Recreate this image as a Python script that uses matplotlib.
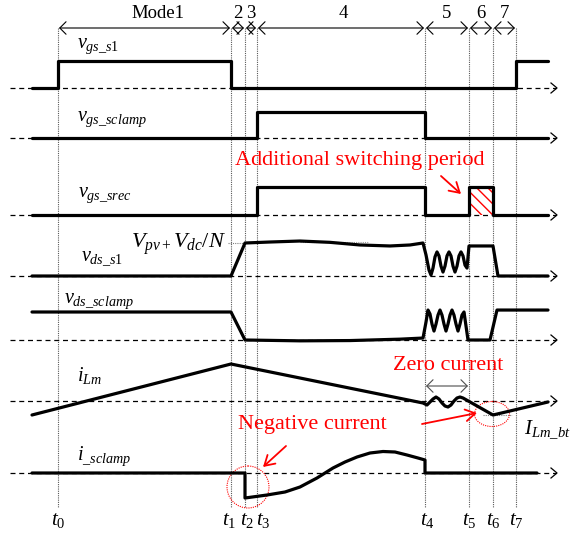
import matplotlib
matplotlib.use("Agg")
import matplotlib.pyplot as plt
from matplotlib.patches import Rectangle, Ellipse, Circle

plt.rcParams['font.family'] = ['Liberation Serif', 'DejaVu Serif']
plt.rcParams['mathtext.fontset'] = 'custom'
plt.rcParams['mathtext.rm'] = 'Liberation Serif'
plt.rcParams['mathtext.it'] = 'Liberation Serif:italic'
plt.rcParams['mathtext.bf'] = 'Liberation Serif:bold'
plt.rcParams['hatch.linewidth'] = 1.0

# ---------------- data ----------------
t_marks = [58, 231, 245, 257, 425, 469, 493, 516]
t_labels = [r'$t_0$', r'$t_1$', r'$t_2$', r'$t_3$', r'$t_4$', r'$t_5$', r'$t_6$', r'$t_7$']
mode_labels = ['Mode1', '2', '3', '4', '5', '6', '7']

vgs_s1_t = [32, 58, 58, 231, 231, 516, 516, 548]
vgs_s1_v = [0, 0, 1, 1, 0, 0, 1, 1]

vgs_sclamp_t = [32, 257, 257, 425, 425, 548]
vgs_sclamp_v = [0, 0, 1, 1, 0, 0]

vgs_srec_t = [32, 257, 257, 425, 425, 469, 469, 493, 493, 548]
vgs_srec_v = [0, 0, 1, 1, 0, 0, 1, 1, 0, 0]

vds_s1_t = [32, 231, 245, 270, 300, 330, 360, 390, 410, 423, 426, 429, 431, 433, 435, 437,
            439, 441, 443, 445, 447, 449, 451, 453, 455, 457, 459, 461, 463, 465, 467,
            469, 493, 498, 548]
vds_s1_v = [0.0, 0.0, 1.0, 1.03, 1.06, 1.02, 0.94, 0.91, 0.94, 1.0, 0.64, 0.18, 0.03, 0.24,
            0.58, 0.73, 0.61, 0.30, 0.12, 0.30, 0.61, 0.73, 0.61, 0.30, 0.12, 0.30, 0.61,
            0.73, 0.61, 0.33, 0.24, 0.91, 0.91, 0.0, 0.0]

vds_sclamp_t = [32, 231, 245, 300, 350, 400, 423, 426, 428, 430, 432, 434, 436, 438, 440,
                442, 444, 446, 448, 450, 452, 454, 456, 458, 460, 462, 464, 466, 468,
                490, 497, 548]
vds_sclamp_v = [1.0, 1.0, 0.0, -0.03, -0.02, 0.03, 0.07, 0.64, 1.07, 0.93, 0.57, 0.32,
                0.57, 0.89, 1.07, 0.89, 0.57, 0.32, 0.57, 0.89, 1.07, 0.89, 0.57, 0.32,
                0.57, 0.89, 1.0, 0.5, 0.0, 0.0, 1.07, 1.07]

ilm_t = [32, 231, 423, 425, 427, 430, 433, 436, 439, 442, 445, 448, 451, 454, 457, 460,
         463, 493, 548]
ilm_v = [-1.4, 3.7, -0.2, -0.3, -0.4, -0.1, 0.2, 0.4, 0.2, -0.2, -0.5, -0.6, -0.4, 0.0,
         0.3, 0.4, 0.3, -1.4, -0.1]

isc_t = [32, 245, 245, 267, 285, 300, 317, 333, 345, 357, 370, 383, 395, 407, 418, 425,
         425, 537]
isc_v = [0.0, 0.0, -2.5, -2.2, -1.9, -1.4, -0.5, 0.5, 1.1, 1.6, 2.0, 2.15, 2.1, 1.8,
         1.5, 1.3, 0.0, 0.0]

# ---------------- layout ----------------
W, H = 582, 536
fig = plt.figure(figsize=(W / 100, H / 100), dpi=100)
ax = fig.add_axes([0, 0, 1, 1])
ax.set_xlim(0, W)
ax.set_ylim(H, 0)
ax.axis('off')

rows = [  # (t, v, baseline, scale)
    (vgs_s1_t, vgs_s1_v, 88, 27),
    (vgs_sclamp_t, vgs_sclamp_v, 138, 26),
    (vgs_srec_t, vgs_srec_v, 215, 28),
    (vds_s1_t, vds_s1_v, 276, 33),
    (vds_sclamp_t, vds_sclamp_v, 340, 28),
    (ilm_t, ilm_v, 401, 10),
    (isc_t, isc_v, 473, 10),
]

# vertical dotted time markers
ax.vlines(t_marks, 28, 507, colors='0.35', linestyles=(0, (1, 1)), lw=0.8, zorder=1)

# dashed baselines with open arrow heads
for _, _, base, _ in rows:
    ax.plot([10, 556], [base, base], color='k', lw=0.9, dashes=(4, 3), zorder=2)
    ax.plot([551, 557, 551], [base - 5, base, base + 5], color='k', lw=0.9, zorder=2)

# waveforms
for t, v, base, sc in rows:
    ax.plot(t, [base - sc * val for val in v], color='k', lw=2.3,
            solid_joinstyle='round', solid_capstyle='round', zorder=5)

# hatched additional switching period
ax.add_patch(Rectangle((t_marks[5], 187), t_marks[6] - t_marks[5], 28, facecolor='none',
                       edgecolor='red', hatch='\\\\\\', lw=0, zorder=3))

# mode arrows
ax_y = 28
for i in range(len(mode_labels)):
    ax.annotate('', xy=(t_marks[i + 1] - 1, ax_y), xytext=(t_marks[i] + 1, ax_y),
                arrowprops=dict(arrowstyle='<->,head_length=0.5,head_width=0.5', lw=0.8,
                                color='k', shrinkA=0, shrinkB=0, mutation_scale=9))
mode_x = [158, 238, 251, 343, 447, 481, 504]
for lab, x in zip(mode_labels, mode_x):
    ax.text(x, 14, lab, ha='center', va='center', fontsize=13.5)

# time labels
t_lab_x = [58, 229, 247, 263, 427, 469, 493, 516]
for lab, x in zip(t_labels, t_lab_x):
    ax.text(x, 521, lab, ha='center', va='center', fontsize=15)

# signal labels
sig_labels = [
    (77, 46, r'$v_{gs\_s1}$'),
    (77, 119, r'$v_{gs\_sclamp}$'),
    (78, 195, r'$v_{gs\_srec}$'),
    (81, 258, r'$v_{ds\_s1}$'),
    (64, 301, r'$v_{ds\_sclamp}$'),
    (77, 375, r'$i_{Lm}$'),
    (77, 456, r'$i_{\_sclamp}$'),
]
for x, y, s in sig_labels:
    ax.text(x, y, s, ha='left', va='center', fontsize=14.5)

ax.text(131, 244, r'$V_{pv+}V_{dc}/N$', ha='left', va='center', fontsize=16)
ax.text(524, 430, r'$I_{Lm\_bt}$', ha='left', va='center', fontsize=15)

# faint helper lines
ax.plot([228, 245], [243, 243], color='0.5', lw=0.8, ls=(0, (1, 1)), zorder=1)
ax.plot([300, 368], [242, 242], color='0.6', lw=0.8, ls=(0, (1, 1)), zorder=1)
ax.plot([483, 512], [415, 415], color='0.5', lw=0.8, ls=(0, (1, 1)), zorder=1)

# zero current span arrow
ax.annotate('', xy=(t_marks[5] - 1, 386), xytext=(t_marks[4] + 1, 386),
            arrowprops=dict(arrowstyle='<->,head_length=0.5,head_width=0.5', lw=0.8,
                            color='0.3', shrinkA=0, shrinkB=0, mutation_scale=9))

# red annotations
red = '#ff0000'
ax.text(360, 160, 'Additional switching period', color=red, ha='center', va='center',
        fontsize=16)
ax.annotate('', xy=(461, 194), xytext=(441, 176),
            arrowprops=dict(arrowstyle='->,head_length=0.5,head_width=0.3', lw=1.3,
                            color=red, shrinkA=0, shrinkB=0, mutation_scale=14))
ax.text(448, 366, 'Zero current', color=red, ha='center', va='center', fontsize=16)
ax.annotate('', xy=(477, 413), xytext=(422, 424),
            arrowprops=dict(arrowstyle='->,head_length=0.5,head_width=0.3', lw=1.3,
                            color=red, shrinkA=0, shrinkB=0, mutation_scale=14))
ax.add_patch(Ellipse((492, 414), 35, 25, fill=False, edgecolor=red, lw=0.8,
                     ls=(0, (1, 1)), zorder=4))
ax.text(312, 424, 'Negative current', color=red, ha='center', va='center', fontsize=16)
ax.annotate('', xy=(263, 467), xytext=(286, 446),
            arrowprops=dict(arrowstyle='->,head_length=0.5,head_width=0.3', lw=1.3,
                            color=red, shrinkA=0, shrinkB=0, mutation_scale=14))
ax.add_patch(Circle((248, 487), 21, fill=False, edgecolor=red, lw=0.8,
                    ls=(0, (1, 1)), zorder=4))

fig.savefig('out.png', dpi=100)
